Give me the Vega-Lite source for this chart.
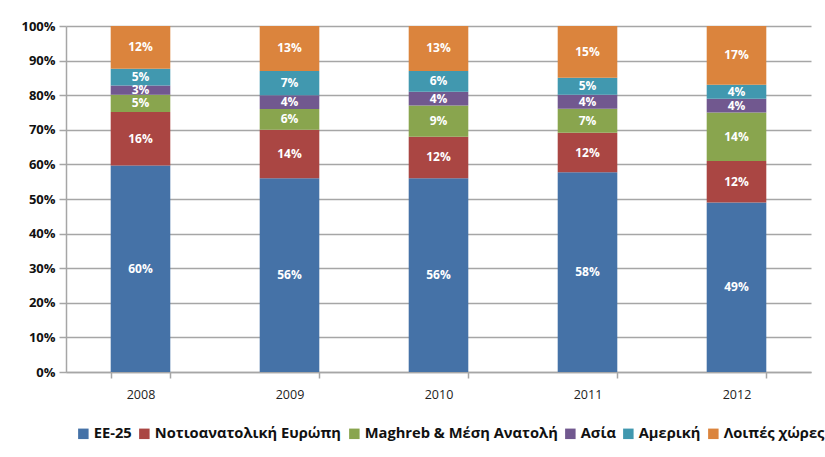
{
  "$schema": "https://vega.github.io/schema/vega-lite/v6.json",
  "width": 745,
  "height": 346,
  "autosize": {"type": "none"},
  "padding": {"left": 66, "top": 26, "right": 14, "bottom": 85},
  "background": "white",
  "config": {
    "font": "Open Sans",
    "view": {"stroke": null},
    "axis": {"domainColor": "#a6a6a6", "tickColor": "#a6a6a6", "gridColor": "#a6a6a6", "domainWidth": 1.5, "tickWidth": 1.5, "gridWidth": 1.5}
  },
  "data": {
    "values": [
      {"year": "2008", "region": "EE-25", "k": 1, "share": 0.60},
      {"year": "2008", "region": "Νοτιοανατολική Ευρώπη", "k": 2, "share": 0.155},
      {"year": "2008", "region": "Maghreb & Μέση Ανατολή", "k": 3, "share": 0.05},
      {"year": "2008", "region": "Ασία", "k": 4, "share": 0.027},
      {"year": "2008", "region": "Αμερική", "k": 5, "share": 0.049},
      {"year": "2008", "region": "Λοιπές χώρες", "k": 6, "share": 0.124},
      {"year": "2009", "region": "EE-25", "k": 1, "share": 0.56},
      {"year": "2009", "region": "Νοτιοανατολική Ευρώπη", "k": 2, "share": 0.14},
      {"year": "2009", "region": "Maghreb & Μέση Ανατολή", "k": 3, "share": 0.06},
      {"year": "2009", "region": "Ασία", "k": 4, "share": 0.04},
      {"year": "2009", "region": "Αμερική", "k": 5, "share": 0.07},
      {"year": "2009", "region": "Λοιπές χώρες", "k": 6, "share": 0.13},
      {"year": "2010", "region": "EE-25", "k": 1, "share": 0.56},
      {"year": "2010", "region": "Νοτιοανατολική Ευρώπη", "k": 2, "share": 0.12},
      {"year": "2010", "region": "Maghreb & Μέση Ανατολή", "k": 3, "share": 0.09},
      {"year": "2010", "region": "Ασία", "k": 4, "share": 0.04},
      {"year": "2010", "region": "Αμερική", "k": 5, "share": 0.06},
      {"year": "2010", "region": "Λοιπές χώρες", "k": 6, "share": 0.13},
      {"year": "2011", "region": "EE-25", "k": 1, "share": 0.58},
      {"year": "2011", "region": "Νοτιοανατολική Ευρώπη", "k": 2, "share": 0.115},
      {"year": "2011", "region": "Maghreb & Μέση Ανατολή", "k": 3, "share": 0.07},
      {"year": "2011", "region": "Ασία", "k": 4, "share": 0.04},
      {"year": "2011", "region": "Αμερική", "k": 5, "share": 0.05},
      {"year": "2011", "region": "Λοιπές χώρες", "k": 6, "share": 0.15},
      {"year": "2012", "region": "EE-25", "k": 1, "share": 0.49},
      {"year": "2012", "region": "Νοτιοανατολική Ευρώπη", "k": 2, "share": 0.12},
      {"year": "2012", "region": "Maghreb & Μέση Ανατολή", "k": 3, "share": 0.14},
      {"year": "2012", "region": "Ασία", "k": 4, "share": 0.04},
      {"year": "2012", "region": "Αμερική", "k": 5, "share": 0.04},
      {"year": "2012", "region": "Λοιπές χώρες", "k": 6, "share": 0.17}
    ]
  },
  "transform": [
    {"stack": "share", "groupby": ["year"], "sort": [{"field": "k", "order": "ascending"}], "offset": "normalize", "as": ["y0", "y1"]},
    {"calculate": "(datum.y0 + datum.y1) / 2", "as": "ym"}
  ],
  "encoding": {
    "x": {
      "field": "year",
      "type": "nominal",
      "scale": {"paddingInner": 0.6, "paddingOuter": 0.3},
      "axis": {"title": null, "labelAngle": 0, "tickBand": "extent", "tickSize": 6, "labelPadding": 10, "labelFontSize": 12.5, "labelColor": "#222222"}
    }
  },
  "layer": [
    {
      "mark": {"type": "bar"},
      "encoding": {
        "y": {
          "field": "y0",
          "type": "quantitative",
          "scale": {"domain": [0, 1], "nice": false},
          "axis": {"title": null, "grid": true, "format": ".0%", "values": [0, 0.1, 0.2, 0.3, 0.4, 0.5, 0.6, 0.7, 0.8, 0.9, 1], "labelOverlap": false, "tickSize": 7, "labelPadding": 4, "labelFontSize": 13, "labelFontWeight": "bold", "labelColor": "#111111"}
        },
        "y2": {"field": "y1"},
        "color": {
          "field": "region",
          "type": "nominal",
          "scale": {
            "domain": ["EE-25", "Νοτιοανατολική Ευρώπη", "Maghreb & Μέση Ανατολή", "Ασία", "Αμερική", "Λοιπές χώρες"],
            "range": ["#4572a7", "#aa4643", "#89a54e", "#71588f", "#4198af", "#db843d"]
          },
          "legend": {
            "title": null,
            "orient": "none",
            "direction": "horizontal",
            "legendX": 10,
            "legendY": 400,
            "symbolType": "square",
            "symbolSize": 110,
            "symbolStrokeWidth": 0,
            "labelFontSize": 14.7,
            "labelFontWeight": "bold",
            "labelColor": "#111111",
            "labelOffset": 3,
            "columnPadding": 5,
            "labelLimit": 400
          }
        }
      }
    },
    {
      "mark": {"type": "text", "color": "white", "fontWeight": "bold", "fontSize": 12},
      "encoding": {
        "y": {
          "field": "ym",
          "type": "quantitative",
          "axis": {"title": null, "grid": true, "format": ".0%", "values": [0, 0.1, 0.2, 0.3, 0.4, 0.5, 0.6, 0.7, 0.8, 0.9, 1], "labelOverlap": false, "tickSize": 7, "labelPadding": 4, "labelFontSize": 13, "labelFontWeight": "bold", "labelColor": "#111111"}
        },
        "text": {"field": "share", "type": "quantitative", "format": ".0%"}
      }
    }
  ]
}
